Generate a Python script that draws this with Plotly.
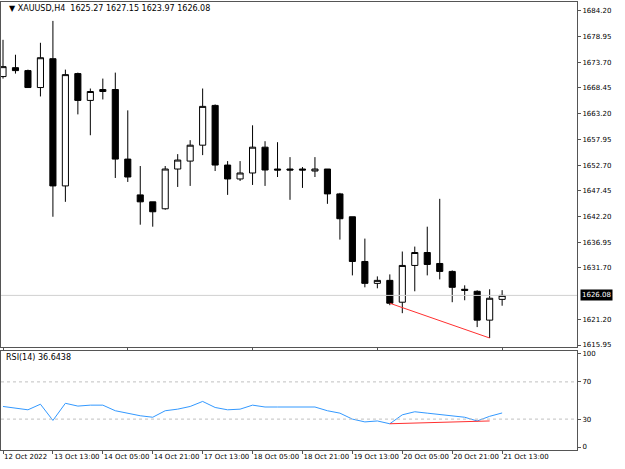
import plotly.graph_objects as go
from plotly.subplots import make_subplots

# XAUUSD H4 candles
opens = [1670.77, 1672.59, 1671.99, 1668.53, 1674.42, 1648.44, 1671.38, 1665.90, 1667.72, 1668.13,
         1653.92, 1646.61, 1645.19, 1643.77, 1651.89, 1653.51, 1656.76, 1664.88, 1652.70, 1649.86,
         1651.08, 1656.35, 1651.89, 1651.89, 1651.89, 1651.48, 1651.89, 1646.81, 1642.14, 1633.01,
         1628.54, 1629.15, 1624.69, 1632.20, 1634.84, 1632.60, 1630.98, 1627.33, 1626.92, 1621.03,
         1625.27]
highs = [1678.28, 1675.23, 1672.19, 1677.67, 1682.14, 1672.19, 1671.58, 1668.33, 1670.36, 1671.58,
         1663.87, 1652.50, 1645.19, 1652.50, 1654.93, 1657.78, 1668.33, 1665.08, 1653.51, 1653.51,
         1660.82, 1657.57, 1657.37, 1654.32, 1652.29, 1654.32, 1651.89, 1647.02, 1642.14, 1637.68,
         1629.96, 1630.37, 1635.04, 1636.05, 1640.11, 1645.80, 1631.18, 1628.14, 1627.12, 1627.33,
         1627.15]
lows = [1670.36, 1671.38, 1668.53, 1666.71, 1642.14, 1645.19, 1663.05, 1658.79, 1666.10, 1650.06,
        1649.25, 1640.52, 1640.11, 1643.57, 1648.23, 1648.44, 1654.73, 1651.48, 1646.61, 1649.45,
        1648.64, 1648.44, 1650.26, 1645.60, 1648.03, 1650.26, 1644.78, 1637.48, 1630.17, 1627.73,
        1627.53, 1624.08, 1622.45, 1626.92, 1630.17, 1629.35, 1624.69, 1625.09, 1619.61, 1617.38,
        1623.97]
closes = [1672.80, 1671.99, 1668.53, 1674.62, 1648.44, 1671.17, 1665.90, 1667.72, 1668.13, 1653.92,
          1650.26, 1645.19, 1643.16, 1651.89, 1653.72, 1656.76, 1664.68, 1652.70, 1649.86, 1651.08,
          1656.35, 1651.69, 1651.69, 1651.69, 1651.69, 1651.89, 1646.81, 1641.74, 1633.01, 1628.54,
          1629.15, 1624.48, 1632.20, 1634.84, 1632.40, 1630.98, 1627.73, 1627.12, 1621.03, 1625.50,
          1626.08]
rsi = [43.6, 42, 40, 46, 28.6, 47, 44, 45, 45, 39, 36.4, 33.6, 32, 39, 40.7, 43.6, 49, 42.5, 40, 40.7,
       45, 43, 43, 43, 43, 43, 39, 36.4, 30, 27, 28, 25, 34.6, 37.9, 36.4, 35, 32.9, 32, 28, 33, 36.6]

tick_idx = [0, 4, 8, 12, 16, 20, 24, 28, 32, 36, 40]
tick_labels = ["12 Oct 2022", "13 Oct 13:00", "14 Oct 05:00", "14 Oct 21:00", "17 Oct 13:00",
               "18 Oct 05:00", "18 Oct 21:00", "19 Oct 13:00", "20 Oct 05:00", "20 Oct 21:00",
               "21 Oct 13:00"]
price_ticks = [1615.95, 1621.20, 1631.70, 1636.95, 1642.20, 1647.45, 1652.70, 1657.95,
               1663.20, 1668.45, 1673.70, 1678.95, 1684.20]

div_idx = [31, 39]
div_price = [1624.48, 1617.38]
div_rsi = [25, 28]

x = list(range(len(opens)))

fig = make_subplots(rows=2, cols=1, shared_xaxes=True, vertical_spacing=0.009,
                    row_heights=[0.777, 0.223])
fig.add_trace(go.Candlestick(x=x, open=opens, high=highs, low=lows, close=closes,
                             increasing=dict(fillcolor="white", line=dict(color="black", width=1)),
                             decreasing=dict(fillcolor="black", line=dict(color="black", width=1)),
                             whiskerwidth=0, showlegend=False), row=1, col=1)
fig.add_trace(go.Scatter(x=div_idx, y=div_price, mode="lines", line=dict(color="#ff3030", width=1),
                         showlegend=False), row=1, col=1)
fig.add_trace(go.Scatter(x=x, y=rsi, mode="lines", line=dict(color="#3399ff", width=1),
                         showlegend=False), row=2, col=1)
fig.add_trace(go.Scatter(x=div_idx, y=div_rsi, mode="lines", line=dict(color="#ff3030", width=1),
                         showlegend=False), row=2, col=1)

fig.add_hline(y=closes[-1], line=dict(color="#d0d0d0", width=1), row=1, col=1)
for lvl in [30, 70]:
    fig.add_hline(y=lvl, line=dict(color="#c0c0c0", width=1, dash="dot"), row=2, col=1)

fig.add_annotation(x=1.0, xref="paper", xanchor="left", y=closes[-1], yref="y",
                   text=f"{closes[-1]:.2f}", showarrow=False, bgcolor="black",
                   font=dict(color="white", size=7), borderpad=1, xshift=3)
fig.add_annotation(x=0.01, xref="paper", y=1, yref="paper", yanchor="top", xanchor="left",
                   text=f"▼ XAUUSD,H4  {opens[-1]:.2f} {highs[-1]:.2f} {lows[-1]:.2f} {closes[-1]:.2f}",
                   showarrow=False, font=dict(size=8, color="black"))
fig.add_annotation(x=0.005, xref="paper", y=0.221, yref="paper", yanchor="top", xanchor="left",
                   text=f"RSI(14) {rsi[-1] + 0.0438:.4f}", showarrow=False, font=dict(size=8, color="black"))

axis_style = dict(showline=True, linecolor="#555", linewidth=1, mirror=True, showgrid=False,
                  zeroline=False, ticks="outside", ticklen=3, tickcolor="#555",
                  tickfont=dict(size=7), automargin=False)
fig.update_xaxes(range=[-0.16, 46], rangeslider_visible=False, **axis_style)
fig.update_xaxes(showticklabels=False, row=1, col=1)
fig.update_xaxes(tickvals=tick_idx, ticktext=tick_labels, ticklabelposition="outside right",
                 tickangle=0, row=2, col=1)
fig.update_yaxes(side="right", **axis_style)
fig.update_yaxes(range=[1615.55, 1686.0], tickvals=price_ticks, tickformat=".2f", row=1, col=1)
fig.update_yaxes(range=[-3.2, 103.2], tickvals=[0, 30, 70, 100], row=2, col=1)

fig.update_layout(width=625, height=469, margin=dict(l=1, r=48, t=2, b=19),
                  paper_bgcolor="white", plot_bgcolor="white",
                  font=dict(family="DejaVu Sans", size=8, color="black"))
fig.write_html("out.html", config={"displayModeBar": False},
               post_script="document.body.style.margin='0';")
